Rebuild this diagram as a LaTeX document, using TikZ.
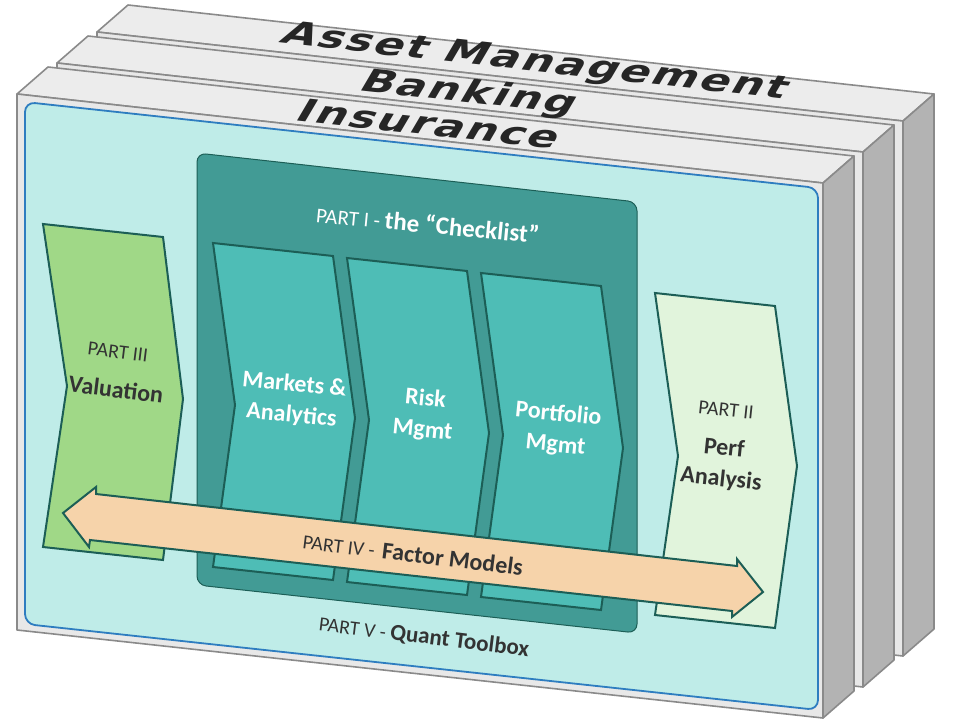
\documentclass[tikz,border=0pt]{standalone}
\usepackage{xcolor}
\usepackage{fontspec}
\usepackage{tikz}
\usetikzlibrary{positioning}

\newfontfamily\partfont{Carlito}
\newfontfamily\slabfont[LetterSpace=5]{DejaVu Sans}

\definecolor{edgegray}{HTML}{8A8A8A}
\definecolor{frontgray}{HTML}{E8E8E8}
\definecolor{topgray}{HTML}{ECECEC}
\definecolor{sidegray}{HTML}{B3B3B3}
\definecolor{panelcyan}{HTML}{BFECE8}
\definecolor{panelblue}{HTML}{2E7DC0}
\definecolor{checkteal}{HTML}{429B95}
\definecolor{colteal}{HTML}{4EBDB6}
\definecolor{darkline}{HTML}{1C5E56}
\definecolor{valgreen}{HTML}{A0D887}
\definecolor{perfgreen}{HTML}{E1F4DC}
\definecolor{factorpeach}{HTML}{F6D3AA}
\definecolor{labelgray}{HTML}{333333}
\definecolor{slabink}{HTML}{262626}

\begin{document}
\begin{tikzpicture}[x = 1pt, y = -1pt, node distance = 22pt]
    \tikzstyle{slabtopface} = [fill=topgray, draw=edgegray, line width=1.6pt, line join=round]
    \tikzstyle{slabsideface} = [fill=sidegray, draw=edgegray, line width=1.6pt, line join=round]
    \tikzstyle{slabfrontface} = [fill=frontgray, draw=edgegray, line width=1.6pt, line join=round]
    \tikzstyle{slablabel} = [font=\slabfont\bfseries\fontsize{44}{48}\selectfont, text=slabink, inner sep=0pt, rotate=-6.3, xslant=0.45, yscale=0.72]
    \tikzstyle{panel} = [fill=panelcyan, draw=panelblue, line width=1.8pt, rounded corners=10pt]
    \tikzstyle{checkbox} = [fill=checkteal, draw=darkline, line width=1pt, rounded corners=9pt]
    \tikzstyle{colchevron} = [fill=colteal, draw=darkline, line width=2pt, line join=miter]
    \tikzstyle{valchevron} = [fill=valgreen, draw=darkline, line width=2pt]
    \tikzstyle{perfchevron} = [fill=perfgreen, draw=darkline, line width=2pt]
    \tikzstyle{factorarrow} = [fill=factorpeach, draw=darkline, line width=2pt, line join=miter]
    \tikzstyle{parttag} = [font=\partfont\fontsize{20}{24}\selectfont, text=labelgray, inner sep=0pt]
    \tikzstyle{boldtag} = [font=\partfont\bfseries\fontsize{24}{31}\selectfont, text=labelgray, inner sep=0pt]
    \tikzstyle{coltext} = [font=\partfont\bfseries\fontsize{24}{31}\selectfont, text=white, align=center, inner sep=0pt, rotate=-5.5]

    \useasboundingbox (0,0) rectangle (960,720);

    % the three slabs, back to front
    \foreach \k/\lx/\ly/\name in {2/535/63/Asset Management, 1/469/94/Banking, 0/430/124/Insurance} {
        \begin{scope}[shift={(40*\k,-31*\k)}]
            \draw [slabtopface] (17,94) -- (823,183) -- (854,156) -- (48,67) -- cycle;
            \draw [slabsideface] (823,183) -- (854,156) -- (854,691) -- (823,718) -- cycle;
            \draw [slabfrontface] (17,94) -- (823,183) -- (823,718) -- (17,630) -- cycle;
        \end{scope}
        \node [slablabel] (slab\k) at (\lx,\ly) {\name};
    }

    \draw [panel] (25,102) -- (818,188) -- (818,710) -- (25,624) -- cycle;
    \draw [checkbox] (197,153) -- (637,202) -- (637,633) -- (197,585) -- cycle;

    \foreach \i in {0, 1, 2}
        \draw [colchevron, shift={(134*\i,15*\i)}] (213,243) -- (333,256) -- (355,418) -- (333,580) -- (213,567) -- (235,405) -- cycle;

    \draw [valchevron] (43,224) -- (163,237) -- (183,399) -- (163,560) -- (43,547) -- (67,386) -- cycle;
    \draw [perfchevron] (655,293) -- (775,306) -- (797,466) -- (775,628) -- (655,615) -- (678,456) -- cycle;

    \draw [factorarrow] (63,513) -- (96,487) -- (96,494) -- (737,566) -- (737,559) -- (763,592)
        -- (732,617) -- (732,611) -- (90,540) -- (89,547) -- cycle;

    \node [parttag, text=white, rotate=-5.5] (part1) at (428,224) {\fontsize{21}{25}\selectfont PART I - {\bfseries\fontsize{25}{30}\selectfont the “Checklist”}};
    \node [coltext] (markets) at (293,400) {Markets \&\\Analytics};
    \node [coltext] (risk) at (424,415) {Risk\\Mgmt};
    \node [coltext] (portfolio) at (557,430) {Portfolio\\Mgmt};

    \node [parttag, rotate=-7] (part3) at (118,352) {PART III};
    \node [boldtag, rotate=-7, below = of part3] (valuation) {Valuation};

    \node [parttag, rotate=-6] (part2) at (726,410) {PART II};
    \node [boldtag, rotate=-6, align=center, below = of part2] (perf) {Perf\\Analysis};

    \node [parttag, rotate=-7] (part4) at (413,554) {PART IV - \hspace{3pt}{\bfseries\fontsize{24}{29}\selectfont Factor Models}};
    \node [parttag, rotate=-7] (part5) at (424,637) {PART V - {\bfseries\fontsize{23}{28}\selectfont Quant Toolbox}};
\end{tikzpicture}
\end{document}
